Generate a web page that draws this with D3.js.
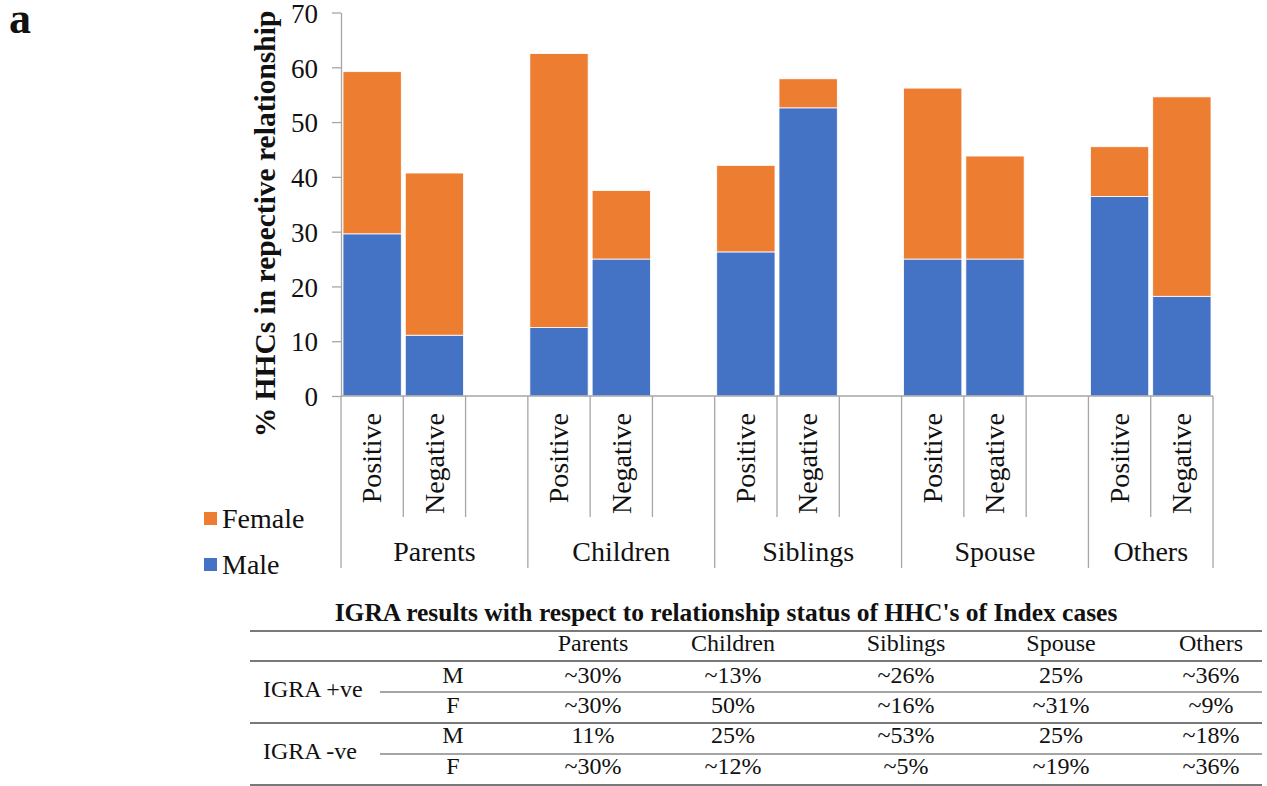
<!DOCTYPE html>
<html>
<head>
<meta charset="utf-8">
<script src="https://cdn.jsdelivr.net/npm/d3@7"></script>
<style>
  html, body { margin: 0; padding: 0; background: #fff; }
  svg { display: block; }
  svg text { font-family: "Liberation Serif", "Times New Roman", serif; }
</style>
</head>
<body>
<svg id="chart" width="1267" height="786" font-family="Liberation Serif, Times New Roman, serif"></svg>
<script>
// Relationship groups and IGRA result within each group
const groups = ["Parents", "Children", "Siblings", "Spouse", "Others"];
const results = ["Positive", "Negative"];

// % of household contacts, ordered group by group: Positive, Negative
const maleValues   = [29.6, 11.1, 12.5, 25.0, 26.3, 52.6, 25.0, 25.0, 36.4, 18.2];
const femaleValues = [29.6, 29.6, 50.0, 12.5, 15.8,  5.3, 31.2, 18.8,  9.1, 36.4];

const seriesNames = ["Male", "Female"];
const seriesColors = ["#4472C4", "#ED7D31"];
const yTicks = [0, 10, 20, 30, 40, 50, 60, 70];
const yTitle = "% HHCs in repective relationship";

// Summary table
const tableTitle = "IGRA results with respect to relationship status of HHC's of Index cases";
const tableRowGroups = ["IGRA +ve", "IGRA -ve"];
const tableSexes = ["M", "F"];
const igraPosMale   = ["~30%", "~13%", "~26%", "25%", "~36%"];
const igraPosFemale = ["~30%", "50%",  "~16%", "~31%", "~9%"];
const igraNegMale   = ["11%",  "25%",  "~53%", "25%", "~18%"];
const igraNegFemale = ["~30%", "~12%", "~5%",  "~19%", "~36%"];

const FONT = "Liberation Serif, Times New Roman, serif";
const svg = d3.select("#chart");
const axisGray = "#A6A6A6";
const ink = "#111";

// ---- chart rows (one per bar) ----
const rows = [];
groups.forEach((g, gi) => results.forEach((r, ri) => {
  const i = gi * results.length + ri;
  rows.push({ key: g + "|" + r, group: g, result: r, Male: maleValues[i], Female: femaleValues[i] });
}));

// category slots: two bars per group, an empty slot between groups
const slots = [];
groups.forEach((g, gi) => {
  results.forEach(r => slots.push(g + "|" + r));
  if (gi < groups.length - 1) slots.push(g + "|gap");
});

const plot = { left: 341, right: 1213, top: 12.5, bottom: 396 };
const x = d3.scaleBand().domain(slots).range([plot.left, plot.right]).padding(0);
const y = d3.scaleLinear().domain([0, 70]).range([plot.bottom, plot.top]);

const stacked = d3.stack().keys(seriesNames)(rows);
const inset = 2;

svg.append("g").selectAll("g")
  .data(stacked)
  .join("g")
  .attr("fill", (d, i) => seriesColors[i])
  .selectAll("rect")
  .data(d => d)
  .join("rect")
  .attr("x", d => x(d.data.key) + inset)
  .attr("width", x.bandwidth() - 2 * inset)
  .attr("y", d => y(d[1]))
  .attr("height", d => y(d[0]) - y(d[1]))
  .attr("stroke", "#fff")
  .attr("stroke-width", 0.8);

// ---- y axis ----
const yAxis = svg.append("g")
  .attr("transform", `translate(${plot.left},0)`)
  .call(d3.axisLeft(y).tickValues(yTicks).tickSize(9).tickPadding(14).tickSizeOuter(0));
yAxis.attr("font-family", FONT);
yAxis.select(".domain").attr("stroke", axisGray).attr("stroke-width", 1.3);
yAxis.selectAll(".tick line").attr("stroke", axisGray).attr("stroke-width", 1.3);
yAxis.selectAll(".tick text")
  .attr("font-family", FONT)
  .attr("font-size", 27)
  .attr("dy", "0.36em")
  .attr("fill", ink);

svg.append("text")
  .attr("transform", `translate(275,224) rotate(-90)`)
  .attr("text-anchor", "middle")
  .attr("font-family", FONT)
  .attr("font-size", 29.5)
  .attr("font-weight", "bold")
  .attr("fill", ink)
  .text(yTitle);

// ---- x axis: baseline, multi-level ticks and labels ----
const xAxisG = svg.append("g").attr("font-family", FONT);
xAxisG.append("line")
  .attr("x1", plot.left).attr("x2", plot.right)
  .attr("y1", plot.bottom).attr("y2", plot.bottom)
  .attr("stroke", axisGray).attr("stroke-width", 1.3);

const shortTickEnd = 517, longTickEnd = 568;
const boundaries = d3.range(slots.length + 1).map(i => ({
  x: plot.left + i * x.step(),
  long: i === 0 || i === slots.length || slots[i - 1].endsWith("|gap")
}));
xAxisG.selectAll("line.tick")
  .data(boundaries)
  .join("line")
  .attr("class", "tick")
  .attr("x1", d => d.x).attr("x2", d => d.x)
  .attr("y1", plot.bottom).attr("y2", d => d.long ? longTickEnd : shortTickEnd)
  .attr("stroke", axisGray).attr("stroke-width", 1.3);

xAxisG.selectAll("text.sub")
  .data(rows)
  .join("text")
  .attr("class", "sub")
  .attr("transform", d => `translate(${x(d.key) + x.bandwidth() / 2},413) rotate(-90)`)
  .attr("text-anchor", "end")
  .attr("dy", "0.33em")
  .attr("font-family", FONT)
  .attr("font-size", 28)
  .attr("fill", ink)
  .text(d => d.result);

xAxisG.selectAll("text.grp")
  .data(groups)
  .join("text")
  .attr("class", "grp")
  .attr("x", g => {
    const first = x(g + "|" + results[0]);
    const last = g === groups[groups.length - 1] ? x(g + "|" + results[results.length - 1]) : x(g + "|gap");
    return (first + last + x.bandwidth()) / 2;
  })
  .attr("y", 561)
  .attr("text-anchor", "middle")
  .attr("font-family", FONT)
  .attr("font-size", 28)
  .attr("fill", ink)
  .text(g => g);

// ---- legend ----
const legendItems = [
  { name: "Female", color: seriesColors[1], y: 512 },
  { name: "Male", color: seriesColors[0], y: 558 }
];
const legend = svg.append("g").selectAll("g").data(legendItems).join("g");
legend.append("rect")
  .attr("x", 204).attr("y", d => d.y).attr("width", 13).attr("height", 13)
  .attr("fill", d => d.color);
legend.append("text")
  .attr("x", 222).attr("y", d => d.y + 16)
  .attr("font-family", FONT)
  .attr("font-size", 28)
  .attr("fill", ink)
  .text(d => d.name);

// panel letter
svg.append("text")
  .attr("x", 9).attr("y", 33)
  .attr("font-family", FONT)
  .attr("font-size", 44)
  .attr("font-weight", "bold")
  .attr("fill", ink)
  .text("a");

// ---- table ----
const table = svg.append("g").attr("fill", ink).attr("font-family", FONT);
const tLeft = 250, tRight = 1262, tSplit = 380;
const colX = [593, 733, 906, 1061, 1211];
const sexX = 453;
const lineColor = "#4d4d4d";
const tSize = 24;

table.append("text")
  .attr("x", 726).attr("y", 621)
  .attr("text-anchor", "middle")
  .attr("font-family", FONT)
  .attr("font-size", 25.5)
  .attr("font-weight", "bold")
  .text(tableTitle);

const fullLines = [631, 661, 723, 785];
const partLines = [692, 754];
table.selectAll("line.full").data(fullLines).join("line")
  .attr("class", "full")
  .attr("x1", tLeft).attr("x2", tRight).attr("y1", d => d).attr("y2", d => d)
  .attr("stroke", lineColor).attr("stroke-width", 1.5);
table.selectAll("line.part").data(partLines).join("line")
  .attr("class", "part")
  .attr("x1", tSplit).attr("x2", tRight).attr("y1", d => d).attr("y2", d => d)
  .attr("stroke", lineColor).attr("stroke-width", 1.2);

table.selectAll("text.head").data(groups).join("text")
  .attr("class", "head")
  .attr("x", (d, i) => colX[i]).attr("y", 651)
  .attr("text-anchor", "middle")
  .attr("font-family", FONT).attr("font-size", tSize)
  .text(d => d);

const tableRows = [
  { sex: tableSexes[0], cells: igraPosMale, y: 683 },
  { sex: tableSexes[1], cells: igraPosFemale, y: 713 },
  { sex: tableSexes[0], cells: igraNegMale, y: 743 },
  { sex: tableSexes[1], cells: igraNegFemale, y: 774 }
];
const tr = table.selectAll("g.row").data(tableRows).join("g").attr("class", "row");
tr.append("text")
  .attr("x", sexX).attr("y", d => d.y)
  .attr("text-anchor", "middle")
  .attr("font-family", FONT).attr("font-size", tSize)
  .text(d => d.sex);
tr.selectAll("text.cell").data(d => d.cells.map(c => ({ c, y: d.y }))).join("text")
  .attr("class", "cell")
  .attr("x", (d, i) => colX[i]).attr("y", d => d.y)
  .attr("text-anchor", "middle")
  .attr("font-family", FONT).attr("font-size", tSize)
  .text(d => d.c);

table.selectAll("text.rg").data(tableRowGroups).join("text")
  .attr("class", "rg")
  .attr("x", 263).attr("y", (d, i) => [697, 759][i])
  .attr("font-family", FONT).attr("font-size", tSize)
  .text(d => d);
</script>
</body>
</html>
